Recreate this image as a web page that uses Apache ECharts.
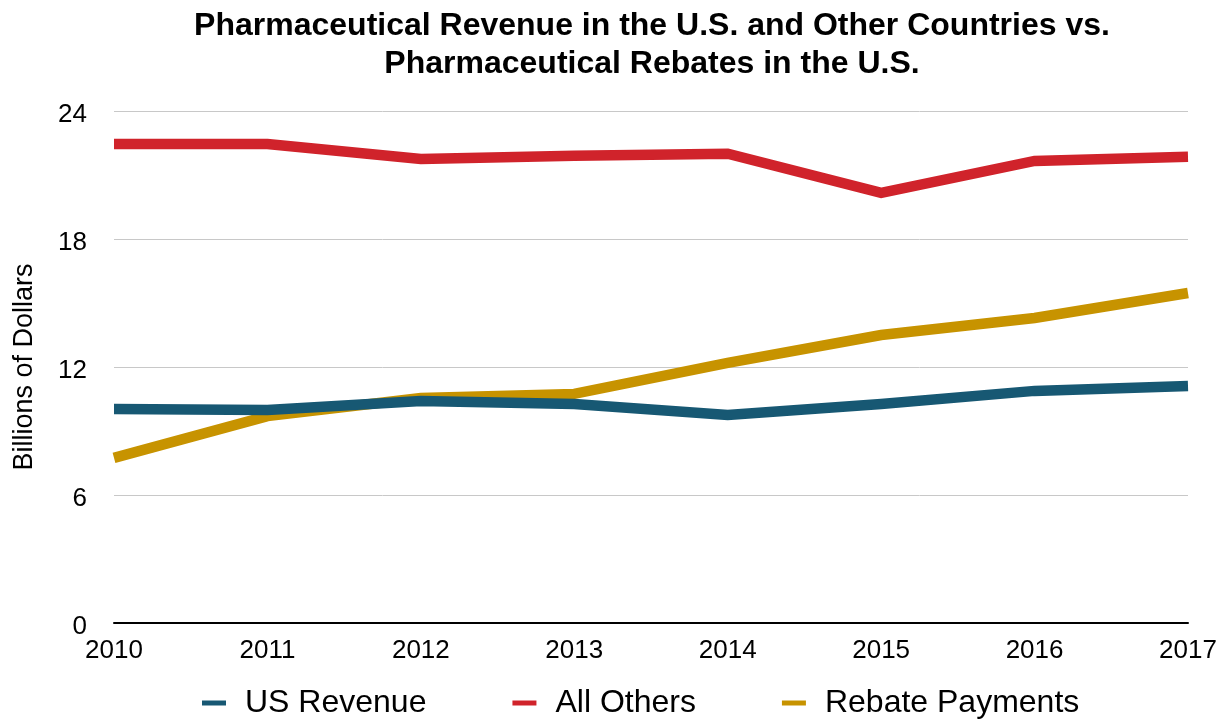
<!DOCTYPE html>
<html>
<head>
<meta charset="utf-8">
<script src="https://cdn.jsdelivr.net/npm/echarts@6/dist/echarts.min.js"></script>
<style>html,body{margin:0;padding:0;background:#fff}#c{width:1225px;height:720px}</style>
</head>
<body>
<div id="c"></div>
<script>
var years = ['2010','2011','2012','2013','2014','2015','2016','2017'];
var usRevenue = [10.03, 9.99, 10.41, 10.27, 9.75, 10.27, 10.88, 11.11];
var allOthers = [22.45, 22.45, 21.75, 21.9, 22.0, 20.16, 21.66, 21.85];
var rebatePayments = [7.74, 9.70, 10.55, 10.74, 12.19, 13.5, 14.3, 15.47];
var yTicks = [0, 6, 12, 18, 24];

var chart = echarts.init(document.getElementById('c'));
var font = 'Liberation Sans, Arial, Helvetica, sans-serif';
function ser(name, data, color, z) {
  return {name: name, type: 'line', data: data, symbol: 'none', z: z,
    lineStyle: {color: color, width: 10.5, cap: 'butt', join: 'miter'},
    itemStyle: {color: color}};
}
chart.setOption({
  animation: false,
  title: {
    text: 'Pharmaceutical Revenue in the U.S. and Other Countries vs.\nPharmaceutical Rebates in the U.S.',
    left: 652, top: 7, textAlign: 'center', padding: 0,
    textStyle: {fontFamily: font, fontWeight: 'bold', fontSize: 32, color: '#000', lineHeight: 38}
  },
  legend: {
    top: 687, left: 202, itemGap: 86, itemWidth: 24, itemHeight: 5,
    padding: 0, icon: 'rect',
    textStyle: {fontFamily: font, fontSize: 32, color: '#000', padding: [0,0,0,14]},
    data: ['US Revenue', 'All Others', 'Rebate Payments']
  },
  grid: {left: 114, right: 37, top: 111, bottom: 97, containLabel: false, outerBoundsMode: 'none'},
  xAxis: {
    type: 'category', data: years, boundaryGap: false,
    axisLine: {lineStyle: {color: '#000', width: 2}},
    axisTick: {show: false},
    axisLabel: {fontFamily: font, fontSize: 26, color: '#000', margin: 15},
    splitLine: {show: false}
  },
  yAxis: {
    type: 'value', min: yTicks[0], max: yTicks[yTicks.length-1], interval: 6,
    name: 'Billions of Dollars', nameLocation: 'middle', nameGap: 76,
    nameTextStyle: {fontFamily: font, fontSize: 27, color: '#000'},
    axisLine: {show: false}, axisTick: {show: false},
    axisLabel: {
      margin: 27,
      formatter: function (v) { return '{a|' + v + '}'; },
      rich: {a: {fontFamily: font, fontSize: 26, color: '#000', padding: [8, 0, 0, 0]}}
    },
    splitLine: {lineStyle: {color: '#c8c8c8', width: 1}}
  },
  series: [
    ser('US Revenue', usRevenue, '#175873', 4),
    ser('All Others', allOthers, '#d0232b', 3),
    ser('Rebate Payments', rebatePayments, '#c79300', 2)
  ]
});
</script>
</body>
</html>
